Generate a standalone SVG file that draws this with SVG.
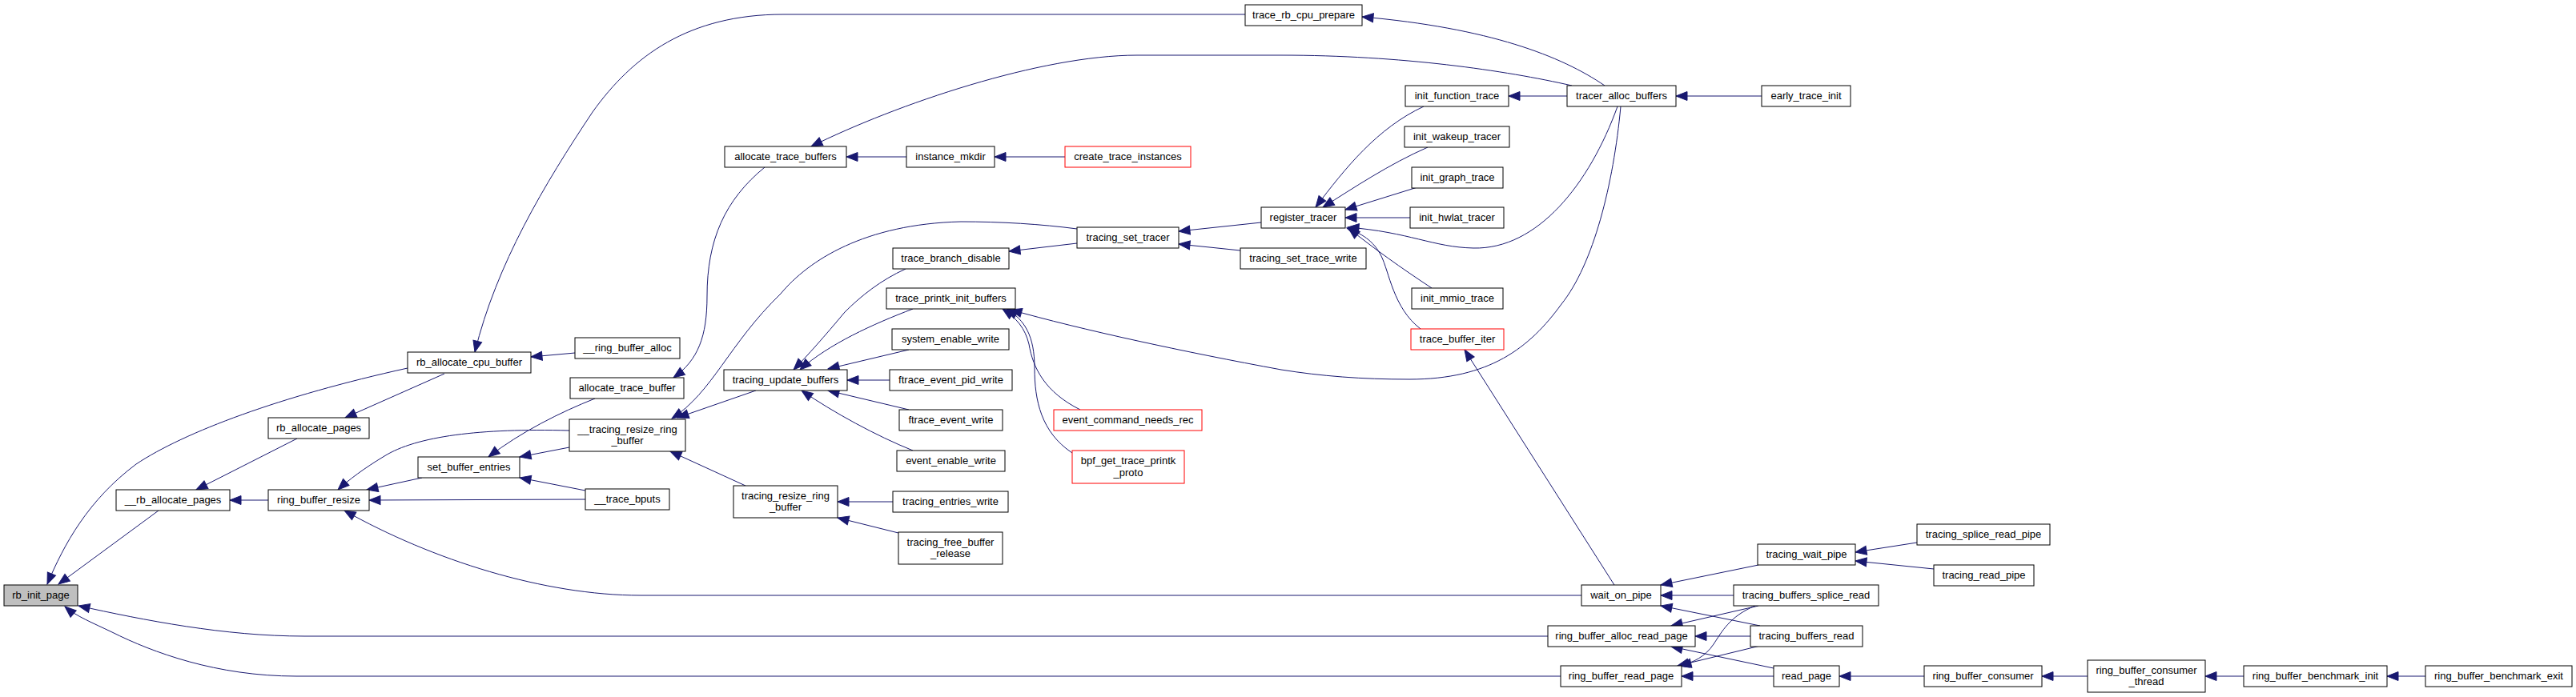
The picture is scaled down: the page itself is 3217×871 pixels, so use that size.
<svg xmlns="http://www.w3.org/2000/svg" width="3217" height="871" viewBox="0 0 3217 871">
<style>
.n rect{fill:#fff;stroke:#000;stroke-width:1}
.n.r rect{stroke:#ff0000}
.n.root rect{fill:#bfbfbf}
text{font-family:"Liberation Sans",Arial,Helvetica,sans-serif;font-size:13px;text-anchor:middle;fill:#000}
.e path{fill:none;stroke:#191970;stroke-width:1;marker-end:url(#a)}
</style>
<defs>
<marker id="a" markerWidth="14" markerHeight="11" refX="14" refY="5.5" orient="auto" markerUnits="userSpaceOnUse" overflow="visible">
<path d="M0,0 L14,5.5 L0,11 z" fill="#191970" stroke="#191970" stroke-width="1"/>
</marker>
</defs>
<rect x="0" y="0" width="3217" height="871" fill="#fff"/>
<g id="edges" class="e">
<path d="M198,638 L73,730"/>
<path d="M509,460 C350,495 230,540 170,580 C110,625 80,680 59,730"/>
<path d="M1933,795 L380,795 C280,795 180,775 98,757"/>
<path d="M1949,845 L370,845 C270,845 190,815 140,790 C115,778 95,770 81,758"/>
<path d="M371,548 L245,612"/>
<path d="M335,625 L287,625"/>
<path d="M555,467 L431,522"/>
<path d="M1555,18 L978,18 C860,18 790,70 740,140 C680,230 620,330 593,440"/>
<path d="M718,441 L663,446"/>
<path d="M527,597 L458,612"/>
<path d="M711,538 C600,535 520,545 480,570 C455,585 435,600 422,612"/>
<path d="M731,624 L461,625"/>
<path d="M1975,744 L800,744 C680,744 540,700 430,638"/>
<path d="M743,498 C700,515 650,540 610,571"/>
<path d="M711,559 L649,571"/>
<path d="M731,613 L649,597"/>
<path d="M955,209 C905,250 883,300 883,370 C883,420 872,450 841,472"/>
<path d="M1963,107 C1880,88 1750,69 1600,69 L1420,69 C1300,69 1120,130 1013,183"/>
<path d="M2004,107 C1950,70 1860,35 1701,21"/>
<path d="M1132,196 L1057,196"/>
<path d="M1330,196 L1242,196"/>
<path d="M944,488 L846,522"/>
<path d="M931,607 L837,564"/>
<path d="M1345,286 C1300,280 1250,277 1200,277 C1080,280 1010,325 975,367 C910,430 890,490 839,523"/>
<path d="M1131,336 C1100,350 1075,370 1055,390 C1030,420 1008,445 991,462"/>
<path d="M1140,386 C1090,405 1035,430 999,462"/>
<path d="M1135,437 L1034,461"/>
<path d="M1111,475 L1058,475"/>
<path d="M1135,512 L1034,488"/>
<path d="M1140,563 C1095,545 1040,515 1001,488"/>
<path d="M1115,627 L1046,627"/>
<path d="M1122,666 L1046,647"/>
<path d="M1345,304 L1260,314"/>
<path d="M1575,278 L1472,289"/>
<path d="M1549,313 L1472,305"/>
<path d="M1778,133 C1720,160 1680,210 1643,259"/>
<path d="M1783,184 C1735,205 1690,235 1652,259"/>
<path d="M1770,234 L1680,262"/>
<path d="M1761,272 L1680,272"/>
<path d="M1788,360 C1750,335 1715,310 1684,285"/>
<path d="M1774,411 C1740,385 1735,340 1725,320 C1715,300 1700,292 1682,285"/>
<path d="M2020,133 C1985,230 1920,312 1840,310 C1790,309 1760,290 1683,284"/>
<path d="M1957,120 L1884,120"/>
<path d="M2200,120 L2093,120"/>
<path d="M1349,512 C1305,490 1290,460 1285,430 C1280,410 1270,398 1252,386"/>
<path d="M1339,566 C1300,540 1292,500 1292,460 C1292,420 1280,400 1257,386"/>
<path d="M2024,133 C2015,230 1990,330 1950,380 C1910,435 1860,474 1760,474 C1700,474 1650,470 1600,462 C1480,440 1350,412 1262,387"/>
<path d="M2016,731 L1829,437"/>
<path d="M2196,706 L2074,731"/>
<path d="M2165,744 L2074,744"/>
<path d="M2198,782 L2074,757"/>
<path d="M2196,757 L2087,782"/>
<path d="M2186,795 L2117,795"/>
<path d="M2215,835 L2087,808"/>
<path d="M2192,757 C2160,770 2150,790 2140,805 C2130,820 2115,828 2098,832"/>
<path d="M2198,807 L2095,832"/>
<path d="M2215,845 L2100,845"/>
<path d="M2394,678 L2317,690"/>
<path d="M2415,711 L2317,701"/>
<path d="M2403,845 L2297,845"/>
<path d="M2607,845 L2550,845"/>
<path d="M2802,845 L2754,845"/>
<path d="M3029,845 L2981,845"/>
</g>
<g id="rb_init_page" class="n root"><rect x="5" y="731" width="92" height="26"/><text x="51" y="748">rb_init_page</text></g>
<g id="__rb_allocate_pages" class="n"><rect x="145" y="612" width="142" height="26"/><text x="216" y="629">__rb_allocate_pages</text></g>
<g id="ring_buffer_resize" class="n"><rect x="335" y="612" width="126" height="26"/><text x="398" y="629">ring_buffer_resize</text></g>
<g id="rb_allocate_pages" class="n"><rect x="335" y="522" width="126" height="26"/><text x="398" y="539">rb_allocate_pages</text></g>
<g id="rb_allocate_cpu_buffer" class="n"><rect x="509" y="440" width="154" height="26"/><text x="586" y="457">rb_allocate_cpu_buffer</text></g>
<g id="set_buffer_entries" class="n"><rect x="522" y="571" width="127" height="26"/><text x="585.5" y="588">set_buffer_entries</text></g>
<g id="__ring_buffer_alloc" class="n"><rect x="718" y="422" width="131" height="26"/><text x="783.5" y="439">__ring_buffer_alloc</text></g>
<g id="allocate_trace_buffer" class="n"><rect x="712" y="472" width="142" height="26"/><text x="783" y="489">allocate_trace_buffer</text></g>
<g id="__tracing_resize_ring_buffer" class="n"><rect x="711" y="524" width="145" height="40"/><text x="783.5" y="540.5">__tracing_resize_ring</text><text x="783.5" y="555">_buffer</text></g>
<g id="__trace_bputs" class="n"><rect x="731" y="611" width="105" height="26"/><text x="783.5" y="628">__trace_bputs</text></g>
<g id="trace_rb_cpu_prepare" class="n"><rect x="1555" y="6" width="146" height="26"/><text x="1628" y="23">trace_rb_cpu_prepare</text></g>
<g id="allocate_trace_buffers" class="n"><rect x="905" y="183" width="152" height="26"/><text x="981" y="200">allocate_trace_buffers</text></g>
<g id="instance_mkdir" class="n"><rect x="1132" y="183" width="110" height="26"/><text x="1187" y="200">instance_mkdir</text></g>
<g id="create_trace_instances" class="n r"><rect x="1330" y="183" width="157" height="26"/><text x="1408.5" y="200">create_trace_instances</text></g>
<g id="tracing_update_buffers" class="n"><rect x="904" y="462" width="154" height="26"/><text x="981" y="479">tracing_update_buffers</text></g>
<g id="tracing_resize_ring_buffer" class="n"><rect x="916" y="607" width="130" height="40"/><text x="981" y="623.5">tracing_resize_ring</text><text x="981" y="638">_buffer</text></g>
<g id="trace_branch_disable" class="n"><rect x="1115" y="310" width="145" height="26"/><text x="1187.5" y="327">trace_branch_disable</text></g>
<g id="trace_printk_init_buffers" class="n"><rect x="1107" y="360" width="161" height="26"/><text x="1187.5" y="377">trace_printk_init_buffers</text></g>
<g id="system_enable_write" class="n"><rect x="1114" y="411" width="146" height="26"/><text x="1187" y="428">system_enable_write</text></g>
<g id="ftrace_event_pid_write" class="n"><rect x="1111" y="462" width="153" height="26"/><text x="1187.5" y="479">ftrace_event_pid_write</text></g>
<g id="ftrace_event_write" class="n"><rect x="1123" y="512" width="129" height="26"/><text x="1187.5" y="529">ftrace_event_write</text></g>
<g id="event_enable_write" class="n"><rect x="1120" y="563" width="135" height="26"/><text x="1187.5" y="580">event_enable_write</text></g>
<g id="tracing_entries_write" class="n"><rect x="1115" y="614" width="144" height="26"/><text x="1187" y="631">tracing_entries_write</text></g>
<g id="tracing_free_buffer_release" class="n"><rect x="1122" y="665" width="130" height="40"/><text x="1187" y="681.5">tracing_free_buffer</text><text x="1187" y="696">_release</text></g>
<g id="event_command_needs_rec" class="n r"><rect x="1316" y="512" width="185" height="26"/><text x="1408.5" y="529">event_command_needs_rec</text></g>
<g id="bpf_get_trace_printk_proto" class="n r"><rect x="1339" y="563" width="140" height="41"/><text x="1409" y="580">bpf_get_trace_printk</text><text x="1409" y="595">_proto</text></g>
<g id="tracing_set_tracer" class="n"><rect x="1345" y="284" width="127" height="26"/><text x="1408.5" y="301">tracing_set_tracer</text></g>
<g id="tracing_set_trace_write" class="n"><rect x="1549" y="310" width="157" height="26"/><text x="1627.5" y="327">tracing_set_trace_write</text></g>
<g id="register_tracer" class="n"><rect x="1575" y="259" width="105" height="26"/><text x="1627.5" y="276">register_tracer</text></g>
<g id="init_function_trace" class="n"><rect x="1755" y="107" width="129" height="26"/><text x="1819.5" y="124">init_function_trace</text></g>
<g id="init_wakeup_tracer" class="n"><rect x="1754" y="158" width="131" height="26"/><text x="1819.5" y="175">init_wakeup_tracer</text></g>
<g id="init_graph_trace" class="n"><rect x="1763" y="209" width="114" height="26"/><text x="1820" y="226">init_graph_trace</text></g>
<g id="init_hwlat_tracer" class="n"><rect x="1761" y="259" width="117" height="26"/><text x="1819.5" y="276">init_hwlat_tracer</text></g>
<g id="init_mmio_trace" class="n"><rect x="1763" y="360" width="114" height="26"/><text x="1820" y="377">init_mmio_trace</text></g>
<g id="trace_buffer_iter" class="n r"><rect x="1762" y="411" width="116" height="26"/><text x="1820" y="428">trace_buffer_iter</text></g>
<g id="tracer_alloc_buffers" class="n"><rect x="1957" y="107" width="136" height="26"/><text x="2025" y="124">tracer_alloc_buffers</text></g>
<g id="early_trace_init" class="n"><rect x="2200" y="107" width="111" height="26"/><text x="2255.5" y="124">early_trace_init</text></g>
<g id="wait_on_pipe" class="n"><rect x="1975" y="731" width="99" height="26"/><text x="2024.5" y="748">wait_on_pipe</text></g>
<g id="ring_buffer_alloc_read_page" class="n"><rect x="1933" y="782" width="184" height="26"/><text x="2025" y="799">ring_buffer_alloc_read_page</text></g>
<g id="ring_buffer_read_page" class="n"><rect x="1949" y="832" width="151" height="26"/><text x="2024.5" y="849">ring_buffer_read_page</text></g>
<g id="tracing_wait_pipe" class="n"><rect x="2195" y="680" width="122" height="26"/><text x="2256" y="697">tracing_wait_pipe</text></g>
<g id="tracing_buffers_splice_read" class="n"><rect x="2165" y="731" width="181" height="26"/><text x="2255.5" y="748">tracing_buffers_splice_read</text></g>
<g id="tracing_buffers_read" class="n"><rect x="2186" y="782" width="140" height="26"/><text x="2256" y="799">tracing_buffers_read</text></g>
<g id="read_page" class="n"><rect x="2215" y="832" width="82" height="26"/><text x="2256" y="849">read_page</text></g>
<g id="tracing_splice_read_pipe" class="n"><rect x="2394" y="655" width="166" height="26"/><text x="2477" y="672">tracing_splice_read_pipe</text></g>
<g id="tracing_read_pipe" class="n"><rect x="2415" y="706" width="125" height="26"/><text x="2477.5" y="723">tracing_read_pipe</text></g>
<g id="ring_buffer_consumer" class="n"><rect x="2403" y="832" width="147" height="26"/><text x="2476.5" y="849">ring_buffer_consumer</text></g>
<g id="ring_buffer_consumer_thread" class="n"><rect x="2607" y="825" width="147" height="40"/><text x="2680.5" y="841.5">ring_buffer_consumer</text><text x="2680.5" y="856">_thread</text></g>
<g id="ring_buffer_benchmark_init" class="n"><rect x="2802" y="832" width="179" height="26"/><text x="2891.5" y="849">ring_buffer_benchmark_init</text></g>
<g id="ring_buffer_benchmark_exit" class="n"><rect x="3029" y="832" width="183" height="26"/><text x="3120.5" y="849">ring_buffer_benchmark_exit</text></g>
</svg>
